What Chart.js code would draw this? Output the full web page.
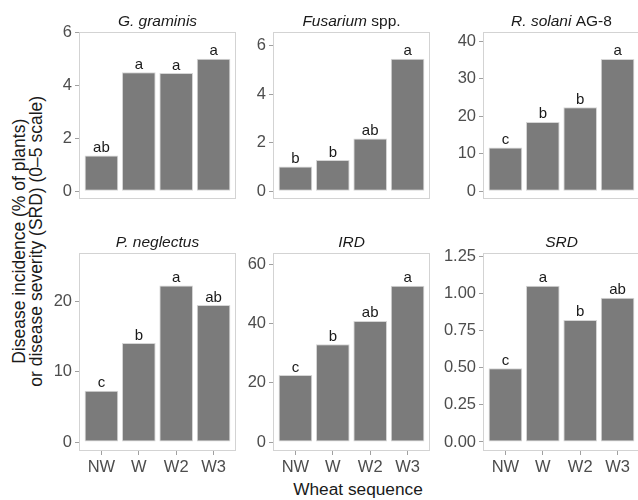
<!DOCTYPE html>
<html>
<head>
<meta charset="utf-8">
<script src="https://cdn.jsdelivr.net/npm/chart.js@4/dist/chart.umd.min.js"></script>
<style>
  body { margin: 0; width: 638px; height: 500px; overflow: hidden; background: #fff; position: relative; font-family: "Liberation Sans", Arial, sans-serif; color: #1a1a1a; }
  canvas { position: absolute; }
  #ytitle { position: absolute; left: -132.4px; top: 223.7px; width: 320px; height: 34.6px; line-height: 17.3px; font-size: 17.5px; text-align: center; white-space: nowrap; transform: rotate(-90deg); }
  #xtitle { position: absolute; left: 208px; top: 481px; width: 300px; line-height: 17px; font-size: 17.3px; text-align: center; white-space: nowrap; }
</style>
</head>
<body>
<div id="ytitle">Disease incidence (% of plants)<br>or disease severity (SRD) (0–5 scale)</div>
<div id="xtitle">Wheat sequence</div>
<script>
// dados
const categories = ['NW', 'W', 'W2', 'W3'];

const gGraminis = [1.35, 4.50, 4.47, 5.01];
const fusarium = [1.02, 1.29, 2.18, 5.47];
const rSolani = [11.7, 18.5, 22.4, 35.3];
const pNeglectus = [7.3, 14.1, 22.3, 19.5];
const ird = [22.6, 33.0, 40.9, 52.8];
const srd = [0.497, 1.054, 0.823, 0.973];

// letras de significancia
const letrasGG = ['ab', 'a', 'a', 'a'];
const letrasFus = ['b', 'b', 'ab', 'a'];
const letrasRs = ['c', 'b', 'b', 'a'];
const letrasPn = ['c', 'b', 'a', 'ab'];
const letrasIrd = ['c', 'b', 'ab', 'a'];
const letrasSrd = ['c', 'a', 'b', 'ab'];

// ticks do eixo y
const ticksGG = [0, 2, 4, 6];
const ticksFus = [0, 2, 4, 6];
const ticksRs = [0, 10, 20, 30, 40];
const ticksPn = [0, 10, 20];
const ticksIrd = [0, 20, 40, 60];
const ticksSrd = [0, 0.25, 0.5, 0.75, 1, 1.25];

// titulos (texto, italico?)
const tituloGG = [['G. graminis', true]];
const tituloFus = [['Fusarium', true], [' spp.', false]];
const tituloRs = [['R. solani', true], [' AG-8', false]];
const tituloPn = [['P. neglectus', true]];
const tituloIrd = [['IRD', true]];
const tituloSrd = [['SRD', true]];

const paineis = [
  { titulo: tituloGG, valores: gGraminis, letras: letrasGG, ticks: ticksGG, min: -0.29, max: 6.02, col: 0, row: 0 },
  { titulo: tituloFus, valores: fusarium, letras: letrasFus, ticks: ticksFus, min: -0.315, max: 6.57, col: 1, row: 0 },
  { titulo: tituloRs, valores: rSolani, letras: letrasRs, ticks: ticksRs, min: -2.04, max: 42.5, col: 2, row: 0 },
  { titulo: tituloPn, valores: pNeglectus, letras: letrasPn, ticks: ticksPn, min: -1.28, max: 26.92, col: 0, row: 1 },
  { titulo: tituloIrd, valores: ird, letras: letrasIrd, ticks: ticksIrd, min: -3.04, max: 63.85, col: 1, row: 1 },
  { titulo: tituloSrd, valores: srd, letras: letrasSrd, ticks: ticksSrd, min: -0.0607, max: 1.2745, col: 2, row: 1, decimais: 2 },
];

const colLeft = [79, 273, 483];
const rowTop = [32, 253];
const rowBottom = [229, 451];
const larguraPainel = 157;
const FONTE = '"Liberation Sans", Arial, sans-serif';

function pluginPainel(p) {
  return {
    id: 'painel',
    beforeDatasetsDraw(chart) {
      const a = chart.chartArea;
      const ctx = chart.ctx;
      ctx.save();
      ctx.strokeStyle = '#d3d3d3';
      ctx.lineWidth = 1;
      ctx.strokeRect(a.left + 0.5, a.top + 0.5, a.right - a.left - 1, a.bottom - a.top - 1);
      ctx.restore();
    },
    afterDatasetsDraw(chart) {
      const ctx = chart.ctx;
      const a = chart.chartArea;
      const meta = chart.getDatasetMeta(0);
      ctx.save();
      // letras sobre as barras
      ctx.font = '15px ' + FONTE;
      ctx.fillStyle = '#1a1a1a';
      ctx.textAlign = 'center';
      ctx.textBaseline = 'alphabetic';
      meta.data.forEach(function (bar, i) {
        ctx.fillText(p.letras[i], bar.x, bar.y - 3.5);
      });
      // titulo do painel
      ctx.textAlign = 'left';
      let total = 0;
      p.titulo.forEach(function (parte) {
        ctx.font = (parte[1] ? 'italic ' : '') + '15.5px ' + FONTE;
        total += ctx.measureText(parte[0]).width;
      });
      let x = (a.left + a.right) / 2 - total / 2;
      p.titulo.forEach(function (parte) {
        ctx.font = (parte[1] ? 'italic ' : '') + '15.5px ' + FONTE;
        ctx.fillText(parte[0], x, a.top - 6);
        x += ctx.measureText(parte[0]).width;
      });
      ctx.restore();
    }
  };
}

function criarPainel(p) {
  const baixo = p.row == 1;
  const canvas = document.createElement('canvas');
  const altura = 30 + (rowBottom[p.row] - rowTop[p.row]) + (baixo ? 30 : 10);
  const largura = larguraPainel + 55;
  canvas.width = largura;
  canvas.height = altura;
  canvas.style.left = (colLeft[p.col] - 50) + 'px';
  canvas.style.top = (rowTop[p.row] - 30) + 'px';
  document.body.appendChild(canvas);

  const pontos = [];
  for (let i = 0; i < p.valores.length; i++) {
    pontos.push({ x: i + 1, y: p.valores[i] });
  }

  const config = {
    type: 'bar',
    data: {
      datasets: [{
        data: pontos,
        backgroundColor: '#7b7b7b',
        borderColor: '#d6d6d6',
        borderWidth: 1,
        borderSkipped: false,
        barPercentage: 0.9,
        categoryPercentage: 1,
      }]
    },
    options: {
      responsive: false,
      animation: false,
      devicePixelRatio: 1,
      layout: { padding: { top: 30, right: 5, bottom: baixo ? 0 : 10, left: 0 } },
      plugins: { legend: { display: false }, tooltip: { enabled: false } },
      scales: {
        x: {
          type: 'linear',
          min: 0.4,
          max: 4.6,
          offset: false,
          display: baixo,
          afterBuildTicks: function (scale) {
            scale.ticks = categories.map(function (c, i) { return { value: i + 1 }; });
          },
          afterFit: function (scale) { scale.height = 30; },
          grid: { offset: false, drawOnChartArea: false, drawTicks: true, tickLength: 4, color: '#a0a0a0' },
          border: { display: false },
          ticks: {
            padding: 3,
            color: '#4d4d4d',
            font: { family: FONTE, size: 16.5 },
            maxRotation: 0,
            autoSkip: false,
            callback: function (v) { return categories[Math.round(v) - 1]; }
          }
        },
        y: {
          min: p.min,
          max: p.max,
          afterBuildTicks: function (scale) {
            scale.ticks = p.ticks.map(function (v) { return { value: v }; });
          },
          afterFit: function (scale) { scale.width = 50; },
          grid: { drawOnChartArea: false, drawTicks: true, tickLength: 4, color: '#a0a0a0' },
          border: { display: false },
          ticks: {
            padding: 3,
            color: '#4d4d4d',
            font: { family: FONTE, size: 16.5 },
            autoSkip: false,
            callback: function (v) { return p.decimais ? v.toFixed(p.decimais) : v; }
          }
        }
      }
    },
    plugins: [pluginPainel(p)]
  };

  new Chart(canvas, config);
}

paineis.forEach(criarPainel);
</script>
</body>
</html>
